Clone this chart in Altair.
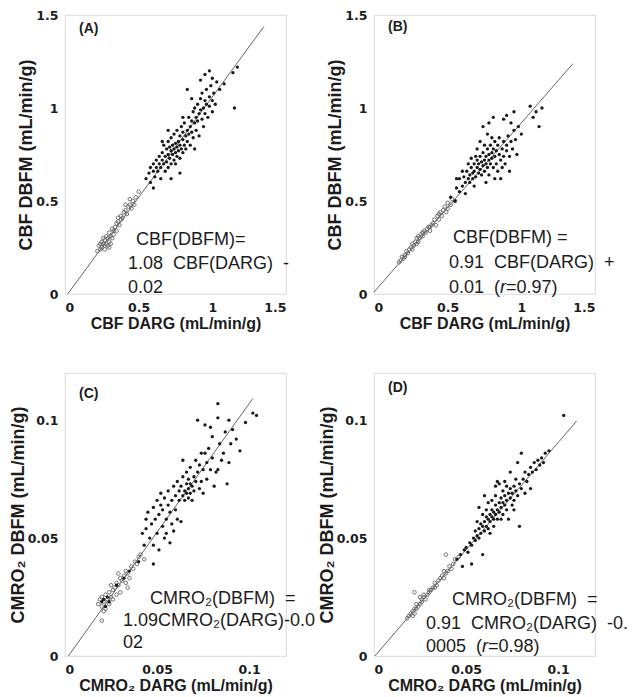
import altair as alt
import pandas as pd

# ---------------- Panel A : CBF ----------------
a_open_x = [0.22,0.23,0.24,0.25,0.25,0.26,0.26,0.27,0.27,0.28,0.28,0.29,0.29,0.30,0.30,0.31,0.31,0.32,0.33,0.33,
            0.34,0.35,0.36,0.37,0.38,0.38,0.39,0.40,0.41,0.42,0.43,0.44,0.45,0.46,0.47,0.48,0.50,0.30,0.27,0.35,
            0.41,0.44,0.24,0.32,0.36]
a_open_y = [0.23,0.26,0.24,0.28,0.25,0.27,0.30,0.24,0.29,0.27,0.31,0.26,0.30,0.28,0.33,0.27,0.31,0.30,0.34,0.32,
            0.36,0.34,0.39,0.37,0.40,0.42,0.41,0.44,0.45,0.43,0.47,0.48,0.46,0.50,0.48,0.52,0.55,0.25,0.26,0.38,
            0.48,0.51,0.27,0.35,0.41]
a_fill_x = [0.55,0.57,0.58,0.60,0.60,0.61,0.62,0.62,0.63,0.64,0.64,0.65,0.65,0.66,0.66,0.67,0.67,0.68,0.68,0.69,
            0.69,0.70,0.70,0.70,0.71,0.71,0.72,0.72,0.72,0.73,0.73,0.74,0.74,0.74,0.75,0.75,0.75,0.76,0.76,0.76,
            0.77,0.77,0.78,0.78,0.78,0.79,0.79,0.80,0.80,0.80,0.81,0.81,0.82,0.82,0.83,0.83,0.84,0.84,0.85,0.85,
            0.86,0.86,0.87,0.87,0.88,0.88,0.89,0.89,0.90,0.90,0.91,0.91,0.92,0.92,0.93,0.93,0.94,0.94,0.95,0.95,
            0.96,0.96,0.97,0.98,0.98,0.99,1.00,1.00,1.01,1.02,0.92,0.95,0.98,1.00,1.03,1.05,1.08,1.15,1.17,1.14,
            0.83,0.88,0.78,0.72,0.60,0.66,0.58,0.80,0.86,0.70]
a_fill_y = [0.62,0.65,0.60,0.66,0.70,0.63,0.68,0.72,0.66,0.70,0.74,0.62,0.68,0.72,0.76,0.70,0.80,0.66,0.74,0.78,
            0.71,0.75,0.82,0.68,0.73,0.79,0.77,0.70,0.84,0.75,0.80,0.72,0.78,0.86,0.76,0.81,0.70,0.79,0.74,0.88,
            0.82,0.77,0.80,0.73,0.85,0.78,0.90,0.83,0.76,0.87,0.80,0.92,0.85,0.78,0.88,0.82,0.95,0.86,0.90,0.80,
            0.93,0.87,0.98,0.84,0.92,1.00,0.95,0.88,1.02,0.93,0.97,0.85,1.05,0.99,0.94,1.08,1.00,0.90,1.04,0.97,
            1.10,1.02,0.95,1.06,1.01,1.12,1.04,0.98,1.08,1.02,1.15,1.18,1.20,1.16,1.14,1.10,1.13,1.00,1.22,1.19,
            1.10,0.78,0.65,0.62,0.57,0.82,0.68,0.95,1.05,0.88]
a_line_x = [0.02, 1.35]
a_line_y = [0.0016, 1.438]

# ---------------- Panel B : CBF ----------------
b_open_x = [0.17,0.18,0.19,0.20,0.21,0.22,0.23,0.24,0.25,0.26,0.27,0.28,0.29,0.30,0.30,0.31,0.32,0.33,0.34,0.35,
            0.36,0.37,0.38,0.39,0.40,0.41,0.42,0.43,0.44,0.45,0.46,0.47,0.48,0.49,0.50,0.52,0.53,0.55,0.21,0.26,
            0.29,0.33,0.38,0.44,0.50]
b_open_y = [0.17,0.18,0.20,0.19,0.21,0.23,0.22,0.24,0.25,0.27,0.26,0.28,0.30,0.28,0.31,0.30,0.32,0.31,0.34,0.33,
            0.35,0.36,0.34,0.37,0.38,0.40,0.37,0.42,0.40,0.44,0.42,0.45,0.47,0.44,0.49,0.48,0.51,0.50,0.20,0.24,
            0.27,0.33,0.36,0.43,0.46]
b_fill_x = [0.52,0.55,0.56,0.58,0.58,0.60,0.61,0.62,0.63,0.64,0.64,0.65,0.65,0.66,0.66,0.67,0.67,0.68,0.68,0.69,
            0.69,0.70,0.70,0.70,0.71,0.71,0.72,0.72,0.72,0.73,0.73,0.74,0.74,0.74,0.75,0.75,0.75,0.76,0.76,0.77,
            0.77,0.77,0.78,0.78,0.78,0.79,0.79,0.80,0.80,0.80,0.81,0.81,0.82,0.82,0.82,0.83,0.83,0.84,0.84,0.85,
            0.85,0.86,0.86,0.87,0.87,0.88,0.88,0.89,0.90,0.90,0.91,0.92,0.92,0.93,0.94,0.95,0.96,0.97,0.98,1.00,
            0.90,0.95,0.93,0.81,0.78,0.88,1.06,1.10,1.12,1.14,1.08,0.60,0.62,0.56,0.68,0.76]
b_fill_y = [0.52,0.50,0.57,0.55,0.62,0.58,0.63,0.60,0.66,0.62,0.70,0.64,0.60,0.68,0.73,0.65,0.62,0.70,0.66,0.74,
            0.63,0.68,0.72,0.78,0.65,0.70,0.74,0.67,0.82,0.71,0.64,0.76,0.69,0.90,0.72,0.66,0.80,0.74,0.70,0.78,
            0.68,0.86,0.72,0.75,0.64,0.80,0.70,0.76,0.73,0.84,0.68,0.78,0.74,0.82,0.62,0.77,0.70,0.80,0.66,0.75,
            0.84,0.72,0.62,0.78,0.68,0.82,0.74,0.70,0.80,0.77,0.85,0.74,0.66,0.82,0.78,0.88,0.83,0.75,0.90,0.86,
            0.96,0.98,0.92,0.95,0.92,0.94,1.01,0.98,0.90,1.00,0.95,0.66,0.54,0.62,0.58,0.60]
b_line_x = [0.0, 1.35]
b_line_y = [0.01, 1.2385]

# ---------------- Panel C : CMRO2 ----------------
c_open_x = [0.018,0.019,0.020,0.020,0.021,0.022,0.022,0.023,0.024,0.024,0.025,0.026,0.026,0.027,0.028,0.028,0.029,
            0.030,0.030,0.031,0.032,0.033,0.033,0.034,0.035,0.036,0.037,0.038,0.039,0.040,0.041,0.043,0.021,0.025,
            0.029,0.034,0.020]
c_open_y = [0.022,0.024,0.021,0.025,0.023,0.026,0.020,0.024,0.027,0.022,0.025,0.028,0.024,0.029,0.026,0.031,0.030,
            0.027,0.033,0.032,0.034,0.031,0.036,0.035,0.033,0.038,0.037,0.040,0.039,0.042,0.043,0.041,0.019,0.030,
            0.035,0.029,0.015]
c_fill_x = [0.020,0.022,0.023,0.024,0.021,0.028,0.032,0.035,0.040,0.042,0.043,0.044,0.044,0.045,0.046,0.047,0.048,
            0.048,0.048,0.049,0.050,0.050,0.051,0.051,0.052,0.052,0.053,0.053,0.054,0.054,0.055,0.055,0.056,0.056,
            0.057,0.057,0.058,0.058,0.059,0.059,0.060,0.060,0.061,0.061,0.062,0.062,0.063,0.063,0.064,0.064,0.064,
            0.065,0.065,0.066,0.066,0.066,0.067,0.067,0.067,0.068,0.068,0.068,0.069,0.069,0.070,0.070,0.071,0.071,
            0.072,0.072,0.073,0.073,0.074,0.074,0.075,0.075,0.076,0.076,0.077,0.077,0.078,0.079,0.080,0.080,0.081,
            0.082,0.083,0.083,0.084,0.085,0.086,0.087,0.088,0.089,0.089,0.090,0.091,0.093,0.095,0.098,0.102,0.104,
            0.079,0.083]
c_fill_y = [0.023,0.021,0.025,0.023,0.024,0.030,0.033,0.036,0.040,0.052,0.047,0.058,0.054,0.061,0.050,0.056,0.047,
            0.039,0.063,0.058,0.052,0.066,0.060,0.045,0.064,0.069,0.055,0.062,0.067,0.050,0.058,0.052,0.064,0.070,
            0.048,0.061,0.056,0.066,0.072,0.053,0.062,0.068,0.058,0.074,0.066,0.070,0.057,0.072,0.068,0.076,0.083,
            0.070,0.066,0.073,0.069,0.078,0.071,0.067,0.075,0.069,0.073,0.080,0.072,0.066,0.076,0.070,0.074,0.083,
            0.078,0.100,0.071,0.081,0.074,0.086,0.079,0.069,0.086,0.098,0.082,0.075,0.088,0.079,0.084,0.093,0.072,
            0.078,0.107,0.079,0.090,0.083,0.086,0.095,0.073,0.082,0.100,0.090,0.096,0.092,0.087,0.099,0.103,0.102,
            0.097,0.101]
c_line_x = [0.0018, 0.102]
c_line_y = [0.0, 0.1092]

# ---------------- Panel D : CMRO2 ----------------
d_open_x = [0.018,0.019,0.020,0.021,0.021,0.022,0.023,0.023,0.024,0.025,0.026,0.026,0.027,0.028,0.029,0.030,0.030,
            0.031,0.032,0.033,0.034,0.035,0.036,0.037,0.038,0.039,0.040,0.041,0.042,0.043,0.044,0.046,0.022,0.027,
            0.033,0.038,0.025,0.022,0.039]
d_open_y = [0.016,0.017,0.018,0.019,0.017,0.020,0.020,0.022,0.021,0.022,0.024,0.023,0.025,0.024,0.026,0.027,0.028,
            0.028,0.029,0.031,0.030,0.032,0.033,0.034,0.033,0.035,0.036,0.038,0.037,0.039,0.041,0.042,0.018,0.026,
            0.029,0.036,0.025,0.027,0.043]
d_fill_x = [0.045,0.047,0.048,0.049,0.050,0.051,0.052,0.053,0.053,0.054,0.055,0.055,0.056,0.056,0.057,0.057,0.058,
            0.058,0.059,0.059,0.059,0.060,0.060,0.061,0.061,0.061,0.062,0.062,0.062,0.063,0.063,0.063,0.064,0.064,
            0.064,0.065,0.065,0.065,0.066,0.066,0.066,0.067,0.067,0.068,0.068,0.068,0.069,0.069,0.070,0.070,0.070,
            0.071,0.071,0.072,0.072,0.072,0.073,0.073,0.074,0.074,0.075,0.075,0.076,0.076,0.077,0.077,0.078,0.079,
            0.079,0.080,0.080,0.081,0.082,0.082,0.083,0.084,0.085,0.085,0.086,0.087,0.088,0.089,0.090,0.091,0.092,
            0.093,0.095,0.103,0.057,0.060,0.066,0.071,0.074,0.078,0.069,0.076,0.067]
d_fill_y = [0.041,0.043,0.038,0.045,0.046,0.044,0.048,0.039,0.047,0.050,0.049,0.053,0.051,0.057,0.050,0.054,0.052,
            0.056,0.043,0.055,0.060,0.053,0.057,0.055,0.059,0.062,0.054,0.058,0.065,0.057,0.060,0.052,0.059,0.062,
            0.066,0.058,0.061,0.055,0.060,0.064,0.068,0.062,0.058,0.065,0.061,0.073,0.063,0.067,0.060,0.065,0.070,
            0.064,0.068,0.062,0.066,0.072,0.069,0.058,0.067,0.071,0.064,0.069,0.072,0.062,0.070,0.075,0.068,0.055,
            0.073,0.086,0.071,0.075,0.069,0.078,0.074,0.077,0.071,0.080,0.078,0.082,0.079,0.083,0.081,0.084,0.082,
            0.086,0.087,0.102,0.063,0.068,0.072,0.074,0.078,0.082,0.058,0.066,0.074]
d_line_x = [0.0005, 0.110]
d_line_y = [0.0, 0.0996]

# axis titles / panel labels
x_titles = ["CBF DARG (mL/min/g)", "CBF DARG (mL/min/g)", "CMRO\u2082 DARG (mL/min/g)", "CMRO\u2082 DARG (mL/min/g)"]
y_titles = ["CBF DBFM (mL/min/g)", "CBF DBFM (mL/min/g)", "CMRO\u2082 DBFM (mL/min/g)", "CMRO\u2082 DBFM (mL/min/g)"]
panel_labels = ["(A)", "(B)", "(C)", "(D)"]
cbf_ticks = [0, 0.5, 1, 1.5]
cmro_ticks = [0, 0.05, 0.1]

NB = "\u00a0"
TXT = "#1c1c1c"
W = 221


def one_text(x, y, s, italic=False, size=18, weight="normal"):
    return alt.Chart(alt.Data(values=[{}])).mark_text(
        text=s, align="left", baseline="alphabetic", font="Liberation Sans",
        fontSize=size, fontWeight=weight, fontStyle="italic" if italic else "normal",
        color=TXT,
    ).encode(x=alt.value(x), y=alt.value(y))


def panel(ox, oy, fx, fy, lx, ly, dom, ticks, xt, yt, lab, lab_y, texts, h):
    xs = alt.Scale(domain=dom, nice=False, zero=False)
    ys = alt.Scale(domain=dom, nice=False, zero=False)
    xax = alt.Axis(values=ticks, format="~g", grid=False, ticks=False, tickSize=0, domain=False,
                   labelFont="DejaVu Sans", labelFontWeight="bold", labelFontSize=12.5, labelColor=TXT,
                   labelPadding=7, titleFont="Liberation Sans", titleFontSize=16, titleFontWeight="bold",
                   titleColor=TXT, titlePadding=2)
    yax = alt.Axis(values=ticks, format="~g", grid=False, ticks=False, tickSize=0, domain=False,
                   labelFont="DejaVu Sans", labelFontWeight="bold", labelFontSize=12.5, labelColor=TXT,
                   labelPadding=7, titleFont="Liberation Sans", titleFontSize=18, titleFontWeight="bold",
                   titleColor=TXT, titlePadding=0)
    ex = alt.X("x:Q", scale=xs, axis=xax, title=xt)
    ey = alt.Y("y:Q", scale=ys, axis=yax, title=yt)
    line = alt.Chart(pd.DataFrame({"x": lx, "y": ly})).mark_line(
        color="#555555", strokeWidth=0.9).encode(x=ex, y=ey)
    opn = alt.Chart(pd.DataFrame({"x": ox, "y": oy})).mark_point(
        shape="circle", filled=False, size=13, stroke="#666666", strokeWidth=0.9, opacity=1).encode(x=ex, y=ey)
    fil = alt.Chart(pd.DataFrame({"x": fx, "y": fy})).mark_circle(
        size=11, color="#1a1a1a", opacity=1).encode(x=ex, y=ey)
    layers = [line, opn, fil, one_text(14, lab_y, lab, size=14, weight="bold")]
    layers += [one_text(*t) for t in texts]
    return alt.layer(*layers).properties(width=W, height=h)


pA = panel(a_open_x, a_open_y, a_fill_x, a_fill_y, a_line_x, a_line_y, [0, 1.5], cbf_ticks,
           x_titles[0], y_titles[0], panel_labels[0], 18,
           [(71, 230, "CBF(DBFM)="),
            (63, 254, "1.08" + NB * 2 + "CBF(DARG)" + NB * 2 + "-"),
            (63, 278, "0.02")], 279)

pB = panel(b_open_x, b_open_y, b_fill_x, b_fill_y, b_line_x, b_line_y, [0, 1.5], cbf_ticks,
           x_titles[1], y_titles[1], panel_labels[1], 16,
           [(79, 228, "CBF(DBFM)" + NB + "="),
            (75, 253, "0.91" + NB * 2 + "CBF(DARG)" + NB * 2 + "+"),
            (75, 278, "0.01" + NB * 2 + "("),
            (126, 278, "r", True),
            (132, 278, "=0.97)")], 279)

pC = panel(c_open_x, c_open_y, c_fill_x, c_fill_y, c_line_x, c_line_y, [0, 0.12], cmro_ticks,
           x_titles[2], y_titles[2], panel_labels[2], 25,
           [(85, 231, "CMRO\u2082(DBFM)" + NB * 2 + "="),
            (58, 253, "1.09CMRO\u2082(DARG)-0.0"),
            (58, 275, "02")], 283)

pD = panel(d_open_x, d_open_y, d_fill_x, d_fill_y, d_line_x, d_line_y, [0, 0.12], cmro_ticks,
           x_titles[3], y_titles[3], panel_labels[3], 19,
           [(78, 232, "CMRO\u2082(DBFM)" + NB * 2 + "="),
            (52, 256, "0.91" + NB * 2 + "CMRO\u2082(DARG)" + NB * 2 + "-0."),
            (52, 279, "0005" + NB * 2 + "("),
            (108, 279, "r", True),
            (114, 279, "=0.98)")], 283)

chart = alt.concat(pA, pB, pC, pD, columns=2,
                   spacing=alt.RowColnumber(row=79, column=88), bounds="flush").properties(
    padding={"left": 0, "top": 0, "right": 0, "bottom": 0},
    background="white",
).configure_view(stroke="#cfcfcf", strokeWidth=0.8)

chart.save("out.html", embed_options={"renderer": "svg", "actions": False})
